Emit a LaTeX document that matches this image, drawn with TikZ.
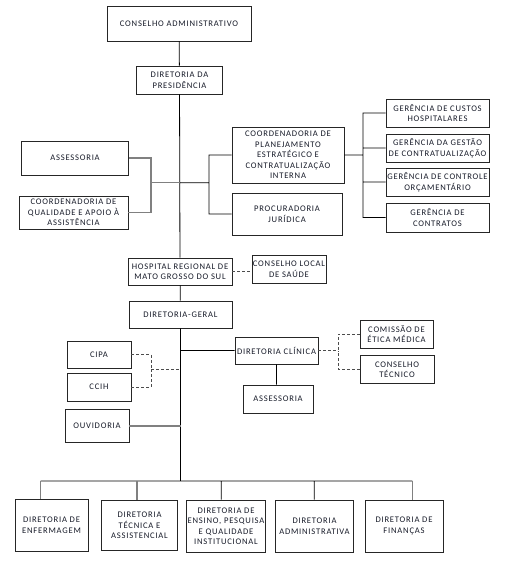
\documentclass[tikz,border=0pt]{standalone}
\usepackage{fontspec}
\setmainfont{Carlito}[LetterSpace=9]
\usetikzlibrary{positioning}
\usetikzlibrary{calc}
\definecolor{txtcol}{RGB}{22,26,40}
\definecolor{linegray}{RGB}{128,128,128}

\begin{document}
\begin{tikzpicture}[x=1pt,y=-1pt,font=\fontsize{8.6}{10.5}\selectfont,
		semithick]
		\tikzstyle{every node}=[text=txtcol]
		\tikzstyle{box}=[draw=black!85,line width=0.9pt,align=center,inner sep=1pt,minimum width=#1]
		\tikzstyle{link}=[draw=black,line width=0.8pt]
		\tikzstyle{glink}=[draw=linegray,line width=1.1pt]
		\tikzstyle{dlink}=[draw=black!70,line width=0.8pt,dashed,dash pattern=on 3pt off 2pt]
		
		\useasboundingbox (0,0) rectangle (506,569);
		
		% topo
		\node[box=144pt,minimum height=35pt] (conselho) at (179,23.5)  {CONSELHO ADMINISTRATIVO};
		\node[box=86pt,minimum height=28pt]  (presid)   at (179.5,80)  {DIRETORIA DA\\PRESIDÊNCIA};
		
		% assessorias da presidencia
		\node[box=107pt,minimum height=34pt] (assess)   at (75,158)    {ASSESSORIA};
		\node[box=109pt,minimum height=33pt] (qualid)   at (73.5,212.5) {COORDENADORIA DE\\QUALIDADE E APOIO À\\ASSISTÊNCIA};
		\node[box=112pt,minimum height=56pt] (coordpl)  at (288,155)   {COORDENADORIA DE\\PLANEJAMENTO\\ESTRATÉGICO E\\CONTRATUALIZAÇÃO\\INTERNA};
		\node[box=110pt,minimum height=42pt] (procur)   at (287,214)   {PROCURADORIA\\JURÍDICA};
		
		% gerencias
		\node[box=103pt,minimum height=28pt] (gcustos)  at (437.5,113) {GERÊNCIA DE CUSTOS\\HOSPITALARES};
		\node[box=103pt,minimum height=28pt] (ggestao)  at (437.5,148) {GERÊNCIA DA GESTÃO\\DE CONTRATUALIZAÇÃO};
		\node[box=103pt,minimum height=28pt] (gcontrol) at (437.5,182) {GERÊNCIA DE CONTROLE\\ORÇAMENTÁRIO};
		\node[box=103pt,minimum height=29pt] (gcontrat) at (437.5,217.5) {GERÊNCIA DE\\CONTRATOS};
		
		% hospital
		\node[box=104pt,minimum height=27pt] (hospital) at (180,271.5) {HOSPITAL REGIONAL DE\\MATO GROSSO DO SUL};
		\node[box=74pt,minimum height=28pt]  (clocal)   at (289,269)   {CONSELHO LOCAL\\DE SAÚDE};
		\node[box=103pt,minimum height=27pt] (dgeral)   at (180.5,314.5) {DIRETORIA-GERAL};
		
		\node[box=64pt,minimum height=27pt]  (cipa)     at (99,354.5)  {CIPA};
		\node[box=64pt,minimum height=28pt]  (ccih)     at (99,387)    {CCIH};
		\node[box=64pt,minimum height=33pt]  (ouvid)    at (97,426)    {OUVIDORIA};
		
		\node[box=83pt,minimum height=27pt]  (clinica)  at (276.5,350.5) {DIRETORIA CLÍNICA};
		\node[box=73pt,minimum height=28pt]  (comissao) at (396.5,334) {COMISSÃO DE\\ÉTICA MÉDICA};
		\node[box=74pt,minimum height=28pt]  (ctecnico) at (397,369.5) {CONSELHO\\TÉCNICO};
		\node[box=70pt,minimum height=28pt]  (assess2)  at (278,399)   {ASSESSORIA};
		
		% diretorias
		\node[box=73pt,minimum height=52pt]  (enferm)   at (51.5,525)  {DIRETORIA DE\\ENFERMAGEM};
		\node[box=76pt,minimum height=50pt]  (tecnica)  at (139.5,525.5) {DIRETORIA\\TÉCNICA E\\ASSISTENCIAL};
		\node[box=76pt,minimum height=52pt]  (ensino)   at (226,526)   {DIRETORIA DE\\ENSINO, PESQUISA\\E QUALIDADE\\INSTITUCIONAL};
		\node[box=78pt,minimum height=52pt]  (admin)    at (314.5,526) {DIRETORIA\\ADMINISTRATIVA};
		\node[box=78pt,minimum height=52pt]  (financ)   at (404,526)   {DIRETORIA DE\\FINANÇAS};
		
		% pontos de juncao
		\coordinate (lj) at (151,182.7);
		\coordinate (mj) at (179.5,182.7);
		\coordinate (rj) at (209,182.7);
		\coordinate (gj) at (363,155);
		\coordinate (cj) at (338,350.5);
		\coordinate (sj) at (151,369.3);
		\coordinate (b1) at (40.7,481);
		\coordinate (b2) at (137,481);
		\coordinate (b3) at (221.3,481);
		\coordinate (b4) at (314.3,481);
		\coordinate (b5) at (412.3,481);
		
		\path[link] (conselho) -- (presid)
		(presid) -- (hospital)
		(hospital) -- (dgeral)
		(dgeral.south) -- (dgeral.south |- b1)
		(mj) -- (rj)
		(coordpl.west) -| (rj)
		(procur.west) -| (rj)
		(coordpl.east) -- (gj)
		(gcustos.west) -| (gj)
		(ggestao.west) -| (gj)
		(gcontrol.west) -| (gj)
		(gcontrat.west) -| (gj)
		(clinica.west -| dgeral.south) -- (clinica.west)
		(clinica.south) -- (clinica.south |- assess2.north)
		(b1) -- (b5)
		(b3) -- (b3 |- ensino.north)
		(b4) -- (b4 |- admin.north);
		
		\path[glink] (assess.east) -| (lj)
		(qualid.east) -| (lj)
		(lj) -- (mj)
		(ouvid.east) -- (ouvid.east -| dgeral.south)
		(b1) -- (b1 |- enferm.north)
		(b2) -- (b2 |- tecnica.north)
		(b5) -- (b5 |- financ.north);
		
		\path[dlink] (hospital.east) -- (hospital.east -| clocal.west)
		(clinica.east) -- (cj)
		(comissao.west) -| (cj)
		(ctecnico.west) -| (cj)
		(cipa.east) -| (sj)
		(ccih.east) -| (sj)
		(sj) -- (sj -| dgeral.south);
		
		\end{tikzpicture}
\end{document}
